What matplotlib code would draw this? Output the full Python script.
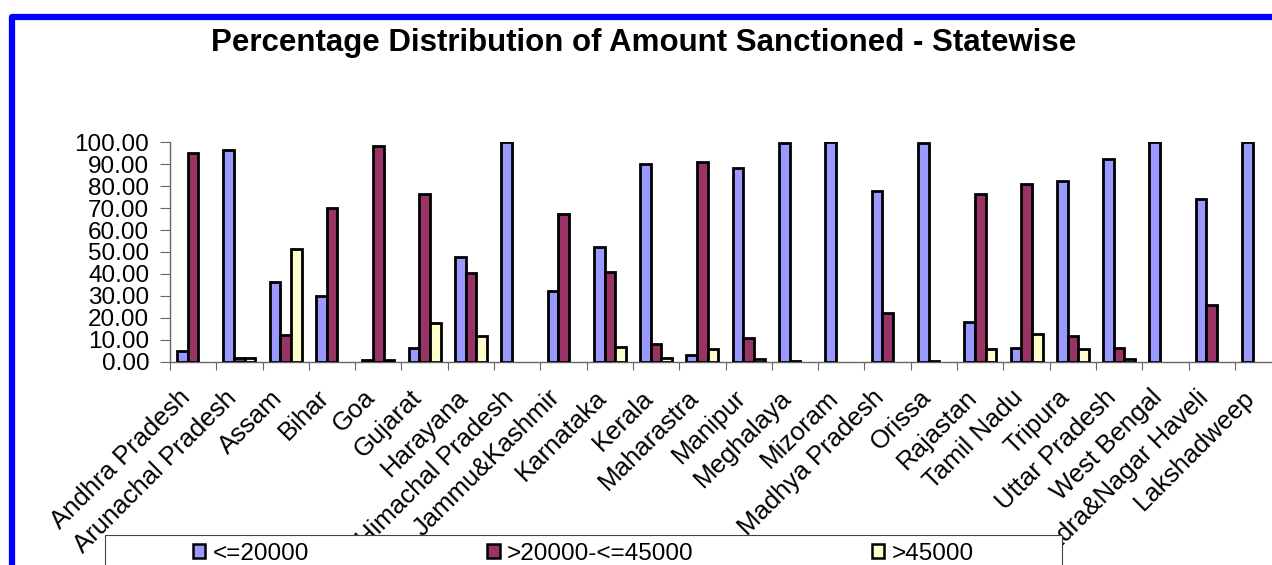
import numpy as np
import matplotlib.pyplot as plt
from matplotlib.patches import Rectangle, Patch
from matplotlib.ticker import FixedLocator, FormatStrFormatter
from matplotlib.transforms import ScaledTranslation

plt.rcParams['font.family'] = ['Liberation Sans', 'DejaVu Sans']

states = ['Andhra Pradesh', 'Arunachal Pradesh', 'Assam', 'Bihar', 'Goa', 'Gujarat',
          'Harayana', 'Himachal Pradesh', 'Jammu&Kashmir', 'Karnataka', 'Kerala',
          'Maharastra', 'Manipur', 'Meghalaya', 'Mizoram', 'Madhya Pradesh', 'Orissa',
          'Rajastan', 'Tamil Nadu', 'Tripura', 'Uttar Pradesh', 'West Bengal',
          'Dadra&Nagar Haveli', 'Lakshadweep']

upto_20000 = [5.0, 96.4, 36.5, 30.0, 0.7, 6.2, 47.8, 100.0, 32.5, 52.4, 89.8, 3.0,
              88.0, 99.7, 100.0, 77.6, 99.5, 18.0, 6.2, 82.4, 92.4, 100.0, 74.0, 100.0]
from_20000_to_45000 = [95.0, 1.8, 12.2, 70.0, 98.2, 76.2, 40.5, 0.0, 67.5, 40.9, 8.2, 91.0,
                       10.7, 0.3, 0.0, 22.4, 0.5, 76.2, 81.0, 11.9, 6.2, 0.0, 26.0, 0.0]
above_45000 = [0.0, 1.8, 51.3, 0.0, 1.1, 17.6, 11.7, 0.0, 0.0, 6.7, 2.0, 6.0,
               1.3, 0.0, 0.0, 0.0, 0.0, 5.8, 12.8, 5.7, 1.4, 0.0, 0.0, 0.0]

series = [('<=20000', upto_20000, '#9999FF'),
          ('>20000-<=45000', from_20000_to_45000, '#993366'),
          ('>45000', above_45000, '#FFFFCC')]

W, H = 1272, 565
fig = plt.figure(figsize=(W / 100, H / 100), dpi=100)
ax = fig.add_axes([170 / W, (H - 362) / H, 24 * 46.3 / W, 220 / H])

x = np.arange(len(states)) + 0.5
bw = 0.23
handles = []
for k, (name, vals, col) in enumerate(series):
    vals = np.array(vals)
    # zero-height bars are left out entirely
    lw = np.where(vals > 0, 2.0, 0.0)
    ax.bar(x + (k - 1) * bw, vals, bw, color=col, edgecolor='black',
           linewidth=lw, zorder=3)
    handles.append(Patch(facecolor=col, edgecolor='black', linewidth=1.8, label=name))

ax.set_xlim(0, len(states))
ax.set_ylim(0, 100)
ax.yaxis.set_major_locator(FixedLocator(np.arange(0, 101, 10)))
ax.yaxis.set_major_formatter(FormatStrFormatter('%.2f'))
ax.set_xticks(np.arange(0, len(states) + 1))
ax.set_xticklabels([])
ax.set_xticks(x, minor=True)
ax.set_xticklabels(states, minor=True, rotation=45, ha='right', va='center',
                   rotation_mode='anchor', fontsize=18.5)
ax.tick_params(axis='x', which='minor', length=0, pad=23)
ax.tick_params(axis='x', which='major', length=6, color='#666666')
ax.tick_params(axis='y', length=7, color='#666666', labelsize=17.5, pad=8)

# nudge the slanted state names a little to the left
shift = ScaledTranslation(-7 / 100, 0, fig.dpi_scale_trans)
for lbl in ax.get_xticklabels(minor=True):
    lbl.set_transform(lbl.get_transform() + shift)

for s in ['top', 'right']:
    ax.spines[s].set_visible(False)
for s in ['left', 'bottom']:
    ax.spines[s].set_color('#666666')
    ax.spines[s].set_linewidth(1.0)

fig.text(644 / W, 1 - 43 / H, 'Percentage Distribution of Amount Sanctioned - Statewise',
         ha='center', va='center', fontsize=22.5, fontweight='bold')

# legend box, white so it covers the ends of the long names; cut off by the lower edge
fig.patches.append(Rectangle((105 / W, -0.2), 957 / W, 0.2 + (H - 535) / H,
                             transform=fig.transFigure, facecolor='white',
                             edgecolor='#444444', linewidth=0.8, zorder=4.9))
fig.legend(handles=handles, loc='center left', bbox_to_anchor=(193 / W, 11 / H),
           ncol=3, frameon=False, fontsize=17.5, borderpad=0, borderaxespad=0,
           handlelength=0.5, handleheight=0.5, handletextpad=0.3, columnspacing=7.35)

# blue outer border
fig.patches.append(Rectangle((11.75 / W, -0.2), 1.2, 0.2 + 1 - 17 / H,
                             transform=fig.transFigure, fill=False,
                             edgecolor='#0000FF', linewidth=4.5, joinstyle='round',
                             zorder=10))

fig.savefig('out.png', dpi=100)
